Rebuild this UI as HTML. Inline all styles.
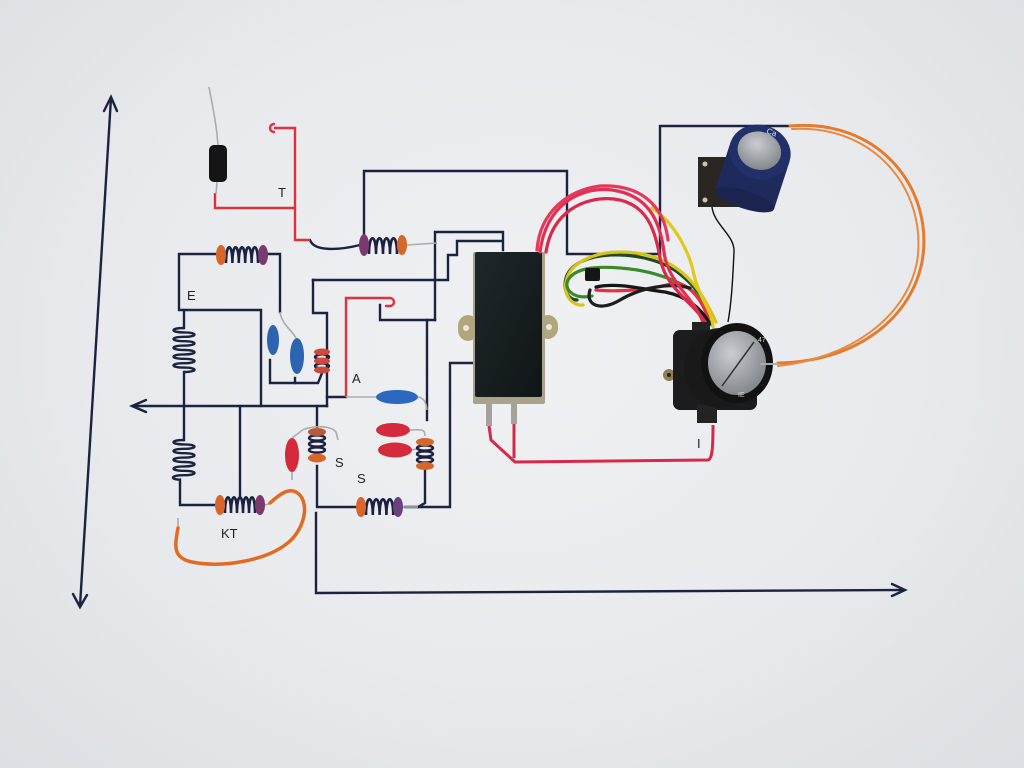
<!DOCTYPE html>
<html><head><meta charset="utf-8"><style>
html,body{margin:0;padding:0;}
body{width:1024px;height:768px;overflow:hidden;background:radial-gradient(ellipse at 50% 45%,#eff1f3 0%,#e8eaed 55%,#dcdfe3 100%);}
svg{display:block;}
text{font-family:"Liberation Sans",sans-serif;font-size:13px;fill:#222;}
</style></head><body>
<svg width="1024" height="768" viewBox="0 0 1024 768" xmlns="http://www.w3.org/2000/svg">
<defs>
<radialGradient id="sil" cx="40%" cy="35%" r="70%"><stop offset="0" stop-color="#c9ccd0"/><stop offset="1" stop-color="#7f8489"/></radialGradient>
<linearGradient id="mod" x1="0" y1="0" x2="1" y2="1"><stop offset="0" stop-color="#1e272b"/><stop offset="1" stop-color="#111617"/></linearGradient>
</defs>
<g fill="none" stroke="#1c2340" stroke-width="2.4" stroke-linejoin="miter" stroke-linecap="square">
<line x1="111" y1="98" x2="80" y2="606"/>
<polyline points="104,111 111,97 117,111" stroke-linecap="round"/>
<polyline points="73,594 80,607 87,595" stroke-linecap="round"/>
<line x1="133" y1="406" x2="327" y2="406"/>
<polyline points="146,400 132,406 146,412" stroke-linecap="round"/>
<polyline points="316,513 316,593 904,590"/>
<polyline points="892,584 905,590 892,596" stroke-linecap="round"/>
<polyline points="217,254 179,254 179,310 261,310 261,406"/>
<polyline points="184,310 184,328"/>
<polyline points="184,372 184,440"/>
<polyline points="180,484 180,505 215,505"/>
<line x1="240" y1="406" x2="240" y2="497"/>
<polyline points="268,254 280,254 280,312"/>
<polyline points="313,280 313,313 327,313 327,406"/>
<polyline points="327,397 346,397"/>
<polyline points="380,305 380,320 435,320"/>
<line x1="427" y1="320" x2="427" y2="420"/>
<polyline points="435,320 435,232 503,232 503,250"/>
<polyline points="502,241 457,241 457,255 448,255 448,280 313,280"/>
<polyline points="364,236 364,171 567,171 567,254 660,254"/>
<polyline points="660,254 660,126 790,126"/>
<polyline points="473,363 450,363 450,507 405,507"/>
<polyline points="317,406 317,427"/>
<polyline points="317,466 317,507 357,507"/>
<polyline points="425,470 425,503 418,507"/>
<polyline points="270,360 270,383 318,383 322,373"/>
<path d="M295,378 L295,383"/>
<path d="M310,240 C314,252 340,250 360,245" stroke-linecap="round"/>
</g>
<g fill="none" stroke="#1c2340" stroke-width="2.4">
<path d="M184,328 c-14,0 -14,4.4 0,4.4 c14,0 14,4.4 0,4.4 c-14,0 -14,4.4 0,4.4 c14,0 14,4.4 0,4.4 c-14,0 -14,4.4 0,4.4 c14,0 14,4.4 0,4.4 c-14,0 -14,4.4 0,4.4 c14,0 14,4.4 0,4.4 c-14,0 -14,4.4 0,4.4 c14,0 14,4.4 0,4.4"/>
<path d="M184,440 c-14,0 -14,4.4 0,4.4 c14,0 14,4.4 0,4.4 c-14,0 -14,4.4 0,4.4 c14,0 14,4.4 0,4.4 c-14,0 -14,4.4 0,4.4 c14,0 14,4.4 0,4.4 c-14,0 -14,4.4 0,4.4 c14,0 14,4.4 0,4.4 c-14,0 -14,4.4 -4,4.4 L180,484"/>
</g>
<g fill="none" stroke="#e0303e" stroke-width="2.4">
<polyline points="215,193 215,208 295,208"/>
<polyline points="274,128 295,128 295,240 310,240"/>
<path d="M274,124 a4,4 0 1,0 0,8" stroke-linecap="round"/>
<polyline points="346,397 346,298 390,298"/>
<path d="M390,298 a4,4 0 0,1 0,8 L386,306" stroke-linecap="round"/>
</g>
<g fill="none" stroke="#a9abae" stroke-width="1.6">
<path d="M218,146 C217,128 213,108 209,87"/>
<line x1="217" y1="182" x2="216" y2="194"/>
<line x1="407" y1="245" x2="437" y2="243"/>
<path d="M280,312 C282,325 292,330 296,338"/>
<line x1="346" y1="397" x2="376" y2="397"/>
<path d="M418,397 C424,398 426,402 427,410"/>
<path d="M410,430 C420,430 425,428 425,436"/>
<path d="M412,450 L420,448"/>
<path d="M300,432 C305,426 330,424 336,432 L338,440"/>
<path d="M292,438 L300,432"/>
<line x1="292" y1="472" x2="292" y2="480"/>
<line x1="178" y1="528" x2="178" y2="518"/>
<line x1="403" y1="507" x2="418" y2="507"/>
<line x1="265" y1="505" x2="272" y2="503"/>
</g>
<rect x="209" y="145" width="18" height="37" rx="5" fill="#141414"/>
<g stroke="#1c2140" stroke-width="2.6" fill="none">
<path d="M226,263 c0,-21 6.4,-21 6.4,0 c0,-21 6.4,-21 6.4,0 c0,-21 6.4,-21 6.4,0 c0,-21 6.4,-21 6.4,0 c0,-21 6.4,-21 6.4,0"/>
<path d="M369,254 c0,-21 7,-21 7,0 c0,-21 7,-21 7,0 c0,-21 7,-21 7,0 c0,-21 7,-21 7,0"/>
<path d="M225,513 c0,-21 6,-21 6,0 c0,-21 6,-21 6,0 c0,-21 6,-21 6,0 c0,-21 6,-21 6,0 c0,-21 6,-21 6,0"/>
<path d="M366,515 c0,-21 6.8,-21 6.8,0 c0,-21 6.8,-21 6.8,0 c0,-21 6.8,-21 6.8,0 c0,-21 6.8,-21 6.8,0"/>
</g>
<g stroke="none">
<ellipse cx="221" cy="255" rx="5" ry="10" fill="#d8662a"/>
<ellipse cx="263" cy="255" rx="5" ry="10" fill="#7a3a6e"/>
<ellipse cx="364" cy="245" rx="5" ry="11" fill="#7a3a6e"/>
<ellipse cx="402" cy="245" rx="5" ry="10" fill="#d8662a"/>
<ellipse cx="220" cy="505" rx="5" ry="10" fill="#d8662a"/>
<ellipse cx="260" cy="505" rx="5" ry="10" fill="#7a3a6e"/>
<ellipse cx="361" cy="507" rx="5" ry="10" fill="#d8662a"/>
<ellipse cx="398" cy="507" rx="5" ry="10" fill="#6a4080"/>
</g>
<g fill="none" stroke="#1c2140" stroke-width="2.4">
<ellipse cx="317" cy="438" rx="8" ry="2.6"/><ellipse cx="317" cy="444" rx="8" ry="2.6"/><ellipse cx="317" cy="450" rx="8" ry="2.6"/>
<ellipse cx="425" cy="448" rx="8" ry="2.6"/><ellipse cx="425" cy="454" rx="8" ry="2.6"/><ellipse cx="425" cy="460" rx="8" ry="2.6"/>
<ellipse cx="322" cy="357" rx="7" ry="2.4"/><ellipse cx="322" cy="366" rx="7" ry="2.4"/>
</g>
<g stroke="none">
<ellipse cx="317" cy="432" rx="9" ry="4" fill="#b85a3a"/>
<ellipse cx="317" cy="458" rx="9" ry="4.5" fill="#d8662a"/>
<ellipse cx="425" cy="442" rx="9" ry="4" fill="#d8662a"/>
<ellipse cx="425" cy="466" rx="9" ry="4" fill="#d8662a"/>
<ellipse cx="322" cy="352" rx="8" ry="3.5" fill="#d04a3a"/>
<ellipse cx="322" cy="361" rx="8" ry="3.5" fill="#d04a3a"/>
<ellipse cx="322" cy="370" rx="8" ry="3.5" fill="#c84a3a"/>
</g>
<ellipse cx="273" cy="340" rx="6" ry="15" fill="#2c64b0"/>
<ellipse cx="297" cy="356" rx="7" ry="18" fill="#2c64b0"/>
<ellipse cx="397" cy="397" rx="21" ry="7" fill="#2c68c0"/>
<ellipse cx="393" cy="430" rx="17" ry="7" fill="#d42a3c"/>
<ellipse cx="395" cy="450" rx="17" ry="7.5" fill="#d42a3c"/>
<ellipse cx="292" cy="455" rx="7" ry="17" fill="#d42a3c"/>
<path d="M270,503 C280,494 288,488 296,492 C310,500 306,526 290,541 C268,561 222,568 192,562 C172,558 175,545 178,528" fill="none" stroke="#e36a22" stroke-width="3.5" stroke-linecap="round"/>
<rect x="458" y="315" width="20" height="26" rx="11" fill="#b2a77c"/>
<rect x="538" y="315" width="20" height="24" rx="11" fill="#b2a77c"/>
<circle cx="466" cy="328" r="3" fill="#e8e6da"/>
<circle cx="549" cy="327" r="3" fill="#e8e6da"/>
<rect x="473" y="252" width="72" height="152" rx="2" fill="#a8a48c"/>
<rect x="475" y="252" width="67" height="145" rx="2" fill="url(#mod)"/>
<rect x="486" y="402" width="6" height="24" fill="#a4a29a"/>
<rect x="511" y="402" width="6" height="22" fill="#a4a29a"/>
<g fill="none" stroke="#d8284a" stroke-width="3" stroke-linejoin="round">
<path d="M489,426 L491,440 L515,462 L708,460 C712,459 713,450 713,425"/>
<path d="M514,424 L514,458"/>
</g>
<rect x="698" y="157" width="62" height="50" fill="#2a2722"/>
<circle cx="705" cy="164" r="2.5" fill="#cfc6a8"/><circle cx="705" cy="200" r="2.5" fill="#cfc6a8"/>
<circle cx="753" cy="200" r="2.5" fill="#cfc6a8"/>
<g transform="rotate(18 760 152)">
<rect x="729" y="152" width="62" height="50" fill="#1f2a5c"/>
<ellipse cx="760" cy="202" rx="31" ry="9" fill="#1a244f"/>
<ellipse cx="760" cy="152" rx="31" ry="27" fill="#22306a"/>
<ellipse cx="759" cy="151" rx="22" ry="19" fill="url(#sil)"/>
</g>
<text x="766" y="133" style="font-size:8px;fill:#dfe3ee" transform="rotate(20 766 133)">Ca</text>
<path d="M712,207 C714,225 735,235 734,252 C733,272 732,300 728,322" fill="none" stroke="#111" stroke-width="1.4"/>
<g fill="none" stroke-width="3.2" stroke-linecap="round">
<path d="M577,300 C568,300 563,290 566,278 C570,264 588,256 610,255 C640,254 665,262 680,274 C695,286 705,300 714,318" stroke="#1e4a2a"/>
<path d="M583,305 C570,306 562,292 567,278 C572,262 595,252 620,252 C650,252 672,262 688,278 C700,290 708,305 716,322" stroke="#d8c418"/>
<path d="M592,296 C575,300 563,290 568,280 C575,268 595,266 620,268 C650,270 678,280 694,292 C704,300 710,312 712,325" stroke="#3a8a2a"/>
<path d="M596,290 C615,292 650,290 670,284 C685,280 700,295 708,318" stroke="#e63044"/>
<path d="M596,287 C620,282 645,290 665,292 C685,296 700,306 710,324" stroke="#161616"/>
<path d="M590,290 C585,305 600,312 620,300 C640,288 670,282 690,288" stroke="#1e1e1e"/>
<path d="M652,208 C676,224 690,254 694,275 C700,300 712,310 713,327" stroke="#e2c81c"/>
<path d="M540,252 C546,205 580,186 612,190 C648,195 660,220 664,252 C668,285 698,300 704,326" stroke="#e03054"/>
<path d="M546,252 C552,212 584,196 614,199 C646,203 655,228 660,258 C666,290 694,302 707,325" stroke="#d82a4a"/>
<path d="M537,250 C540,210 570,190 600,186 C640,184 664,205 668,240" stroke="#e6385a"/>
</g>
<rect x="585" y="268" width="15" height="13" rx="2" fill="#151515"/>
<circle cx="669" cy="375" r="6" fill="#8f8052"/><circle cx="669" cy="375" r="2" fill="#222"/>
<rect x="692" y="322" width="18" height="16" fill="#222"/>
<rect x="673" y="330" width="84" height="80" rx="7" fill="#1c1c1e"/>
<rect x="697" y="405" width="20" height="18" fill="#232323"/>
<ellipse cx="720" cy="368" rx="36" ry="40" fill="#191919"/>
<ellipse cx="737" cy="363" rx="36" ry="40" fill="#121212"/>
<ellipse cx="737" cy="363" rx="29" ry="32" fill="url(#sil)"/>
<line x1="722" y1="386" x2="754" y2="342" stroke="#333" stroke-width="1.5"/>
<text x="758" y="342" style="font-size:7px;fill:#ddd">47</text>
<text x="738" y="397" style="font-size:7px;fill:#ddd">IE</text>
<path d="M790,126 C880,118 935,190 922,262 C910,322 852,362 778,363" fill="none" stroke="#e67a2e" stroke-width="3" stroke-linecap="round"/>
<path d="M792,129 C876,124 928,192 917,262 C906,318 850,358 778,366" fill="none" stroke="#e88a40" stroke-width="2" stroke-linecap="round"/>
<line x1="760" y1="364" x2="778" y2="364" stroke="#a9abae" stroke-width="2"/>
<text x="278" y="197">T</text>
<text x="187" y="300">E</text>
<text x="352" y="383">A</text>
<text x="335" y="467">S</text>
<text x="357" y="483">S</text>
<text x="221" y="538">KT</text>
<text x="697" y="448">I</text>
</svg>
</body></html>
